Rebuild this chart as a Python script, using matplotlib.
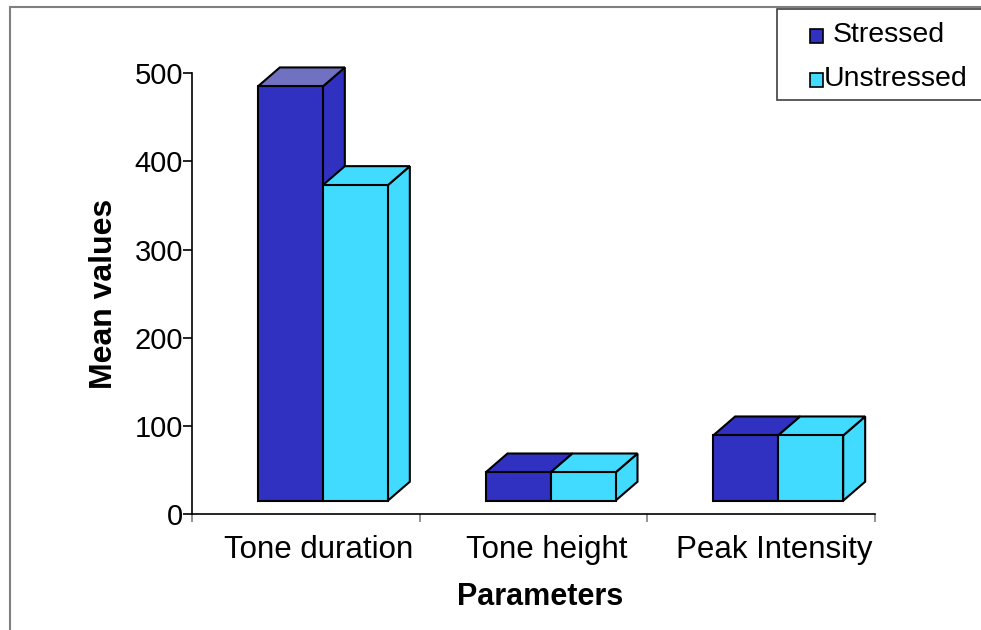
import matplotlib
matplotlib.use('Agg')
import matplotlib.pyplot as plt
from matplotlib.patches import Polygon, Rectangle

# data
categories = ['Tone duration', 'Tone height', 'Peak Intensity']
stressed = [470, 32, 74]
unstressed = [358, 32, 74]
series_names = ['Stressed', 'Unstressed']
y_ticks = [0, 100, 200, 300, 400, 500]

colors = ['#3131C1', '#41DBFF']
light_top = '#7171C1'  # Excel shades the exposed top of the tall stressed bar lighter

plt.rcParams['font.family'] = ['Liberation Sans', 'DejaVu Sans']

W, H, DPI = 981, 630, 100
fig = plt.figure(figsize=(W / DPI, H / DPI), dpi=DPI)


def fx(px):
    return px / W


def fy(py):
    return 1 - py / H


# outer chart-area frame (right/bottom edges fall outside the picture)
fig.patches.append(Rectangle((fx(10), -0.1), 1.2, fy(7) + 0.1, transform=fig.transFigure,
                             fill=False, edgecolor='#808080', lw=1.5))

left, right, bottom, top = 192, 875, 514, 73.3  # plot area in pixels
ax = fig.add_axes([fx(left), fy(bottom), (right - left) / W, (bottom - top) / H])
ax.set_xlim(-0.5, 2.5)
ax.set_ylim(0, 500)

ux = 3 / (right - left)   # data units per pixel
uy = 500 / (bottom - top)
bar_w = 65 * ux
fdx, fdy = 17 * ux, 13.3 * uy    # front face sits a bit into the floor
ddx, ddy = 22 * ux, 19 * uy      # depth of each box


def box(x0, h, color, top_color):
    x0 = x0 + fdx
    x1 = x0 + bar_w
    y0, y1 = fdy, fdy + h
    side = [(x1, y0), (x1 + ddx, y0 + ddy), (x1 + ddx, y1 + ddy), (x1, y1)]
    topf = [(x0, y1), (x0 + ddx, y1 + ddy), (x1 + ddx, y1 + ddy), (x1, y1)]
    ax.add_patch(Polygon(side, closed=True, facecolor=color, edgecolor='black', lw=1.5, clip_on=False))
    ax.add_patch(Polygon(topf, closed=True, facecolor=top_color, edgecolor='black', lw=1.5, clip_on=False))
    ax.bar(x0, h, width=bar_w, bottom=y0, align='edge', color=color, edgecolor='black', lw=1.5, clip_on=False)


for i in range(len(categories)):
    tc = light_top if i == 0 else colors[0]
    box(i - bar_w, stressed[i], colors[0], tc)
    box(i, unstressed[i], colors[1], colors[1])

for s in ['top', 'right']:
    ax.spines[s].set_visible(False)
ax.spines['left'].set_linewidth(1.2)
ax.spines['bottom'].set_linewidth(1.2)

ax.set_yticks(y_ticks)
ax.tick_params(axis='y', length=6.5, width=1.2, pad=0, labelsize=21)
ax.set_xticks([-0.5, 0.5, 1.5, 2.5])
ax.set_xticklabels([])
ax.tick_params(axis='x', which='major', length=6, width=1.2, color='#808080')
# category labels sit under the bar fronts, a little right of the slot centre
ax.set_xticks([i + 13 * ux for i in range(len(categories))], minor=True)
ax.set_xticklabels(categories, minor=True)
ax.tick_params(axis='x', which='minor', length=0, pad=15, labelsize=22.5)

ax.set_xlabel('Parameters', fontsize=22, fontweight='bold')
ax.xaxis.set_label_coords(0.51, -0.155)
ax.set_ylabel('Mean values', fontsize=23, fontweight='bold', labelpad=11)

# legend box, drawn like Excel's (runs off the right edge)
fig.patches.append(Rectangle((fx(777), fy(100)), 0.5, fy(9) - fy(100), transform=fig.transFigure,
                             facecolor='white', edgecolor='#404040', lw=1.2))
for k, (name, c) in enumerate(zip(series_names, colors)):
    my = 29 + k * 44
    fig.patches.append(Rectangle((fx(810), fy(my + 14)), 13 / W, 14 / H, transform=fig.transFigure,
                                 facecolor=c, edgecolor='black', lw=1.2))
    tx = 833 if k == 0 else 824
    fig.text(fx(tx), fy(my + 13), name, fontsize=20.5, va='baseline', ha='left')

fig.savefig('out.png', dpi=DPI)
